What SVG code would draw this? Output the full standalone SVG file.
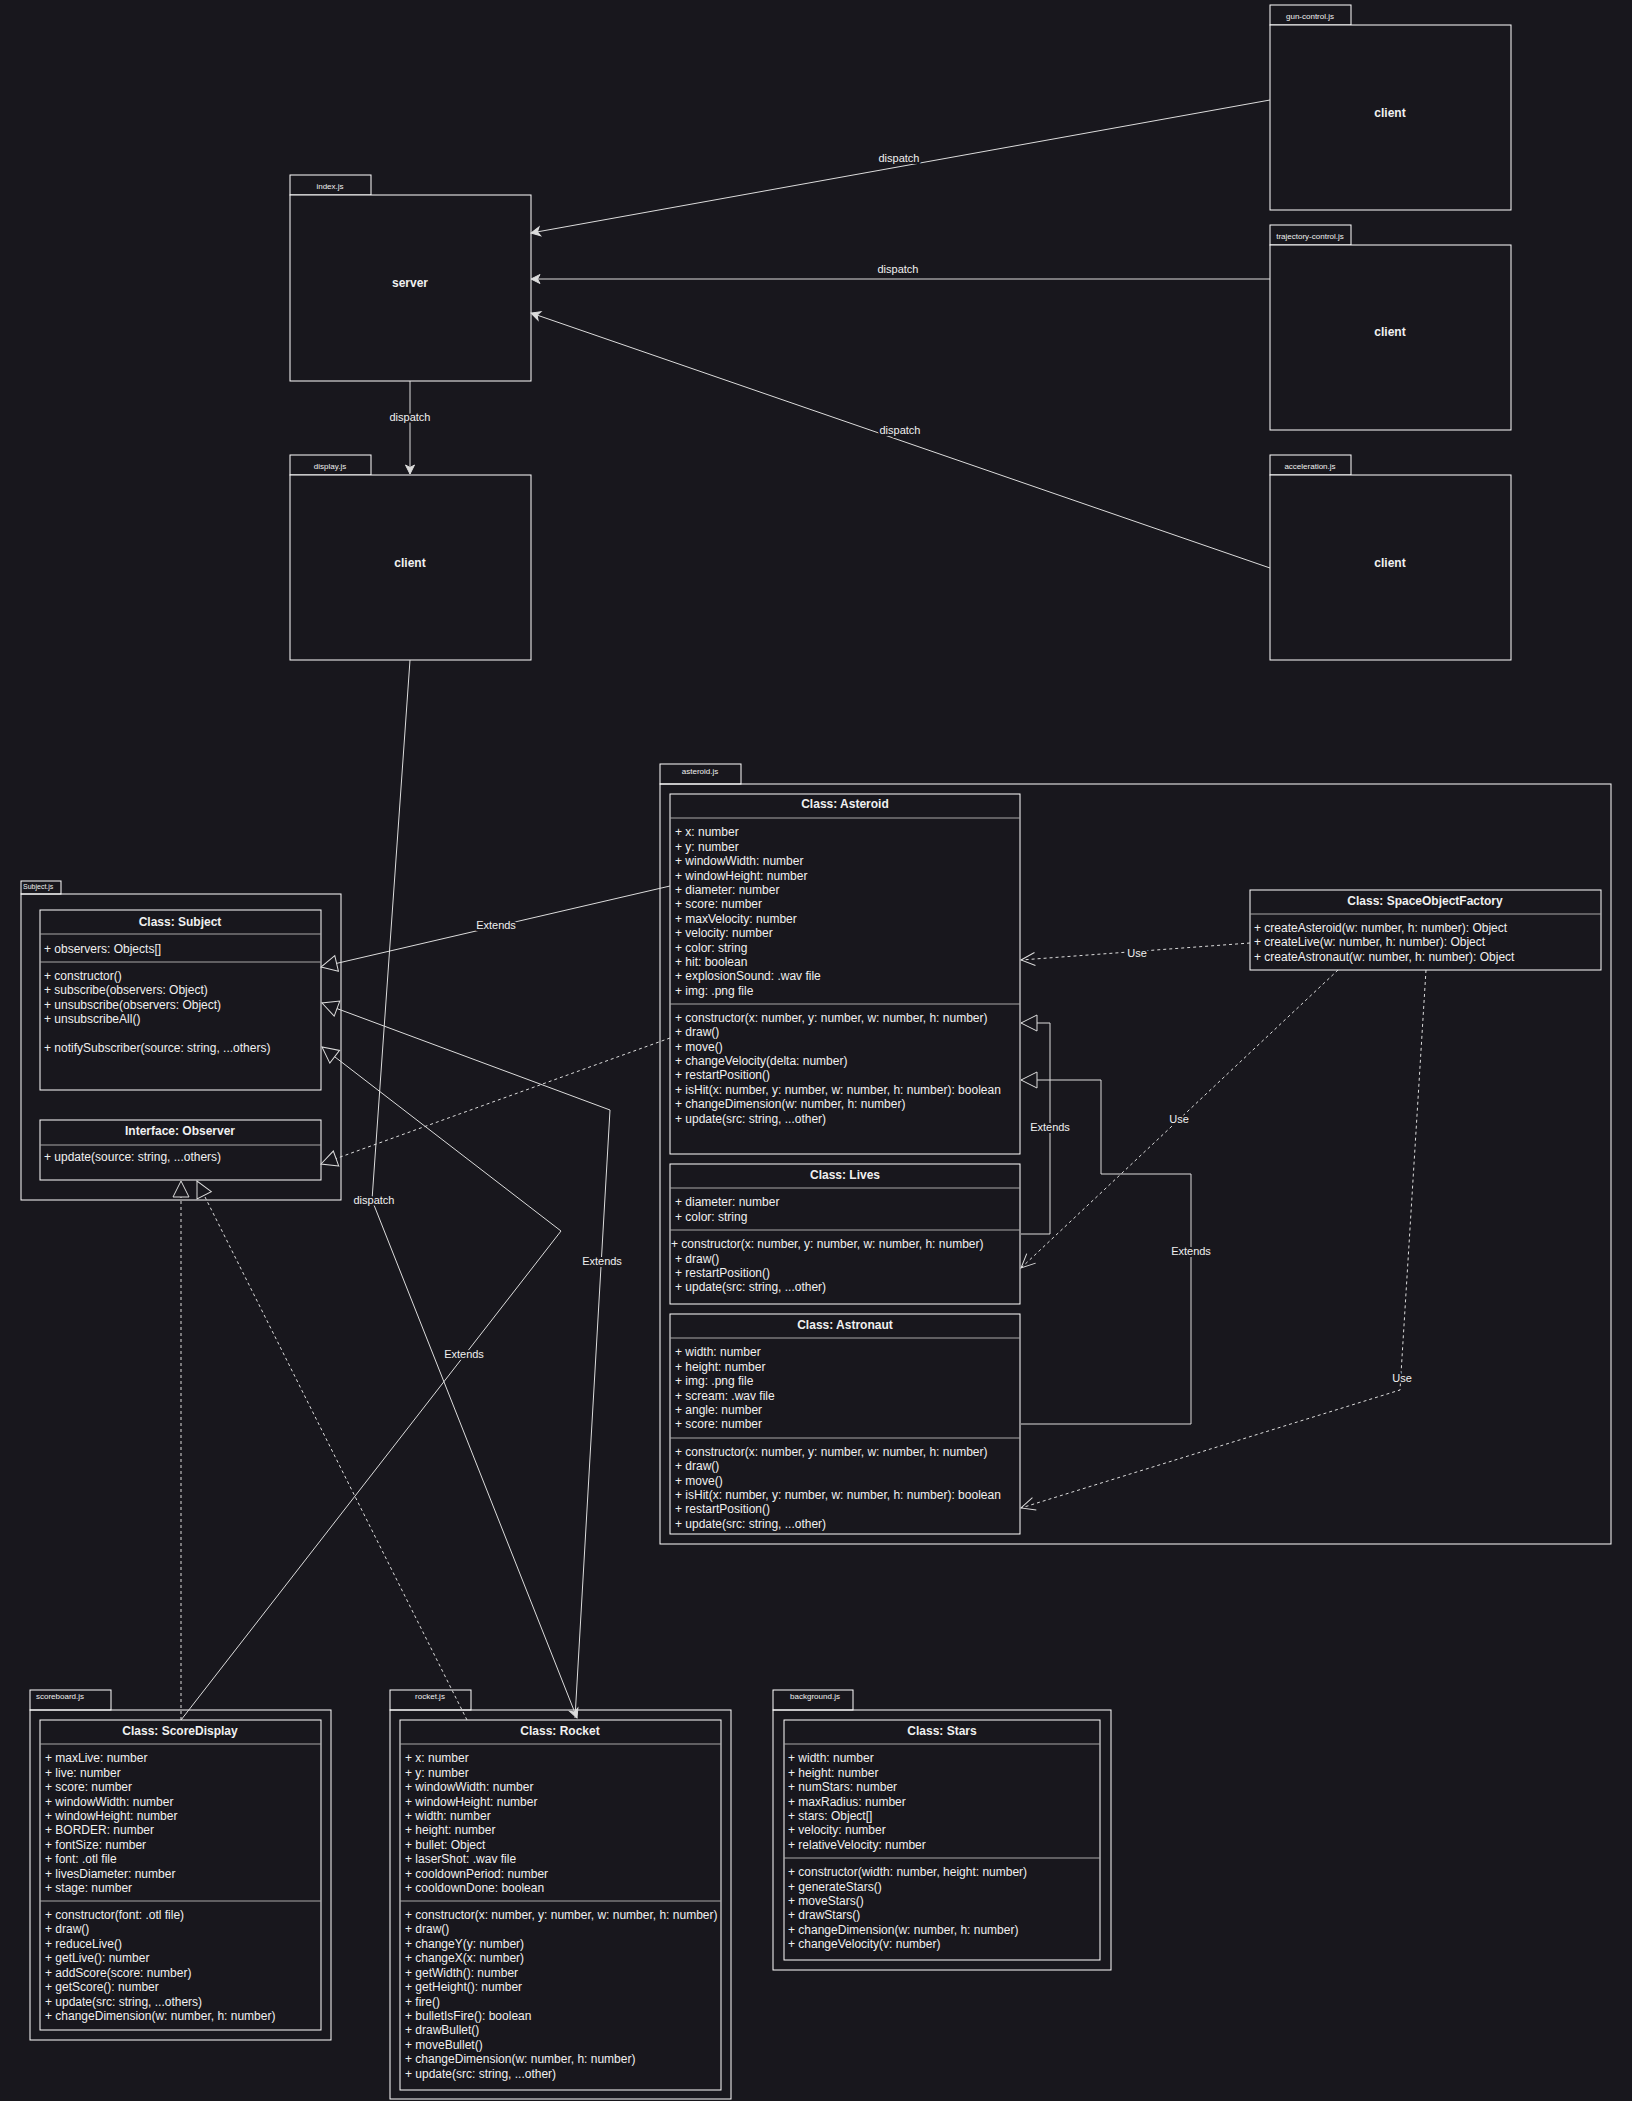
<svg xmlns="http://www.w3.org/2000/svg" width="1632" height="2101" viewBox="0 0 1632 2101">
<style>
.bg{fill:#18171d}
.pkg{fill:none;stroke:#ffffff;stroke-width:1}
.box{fill:#18171d;stroke:#ffffff;stroke-width:1}
.dv{stroke:#a8a8a8;stroke-width:1}
text{font-family:"Liberation Sans",Arial,Helvetica,sans-serif;fill:#f0f0f0}
.m{font-size:12px}
.h{font-size:12px;font-weight:bold;text-anchor:middle}
.tab{font-size:8px;text-anchor:middle}
.lbl{font-size:11px;text-anchor:middle;stroke:#18171d;stroke-width:4px;paint-order:stroke;stroke-linejoin:round}
.c{fill:none;stroke:#dcdcdc;stroke-width:1}
.d{stroke-dasharray:3 3}
</style>
<defs>
<marker id="fa" markerUnits="userSpaceOnUse" markerWidth="12" markerHeight="12" viewBox="-1 -1 12 12" refX="9" refY="4.5" orient="auto" overflow="visible"><path d="M0,0 L9,4.5 L0,9 L2.5,4.5 z" fill="#dcdcdc" stroke="#dcdcdc" stroke-width="1"/></marker>
<marker id="tri" markerUnits="userSpaceOnUse" markerWidth="18" markerHeight="18" viewBox="-1 -1 18 18" refX="16" refY="8" orient="auto" overflow="visible"><path d="M0,0 L16,8 L0,16 z" fill="#18171d" stroke="#dcdcdc" stroke-width="1"/></marker>
<marker id="oa" markerUnits="userSpaceOnUse" markerWidth="16" markerHeight="16" viewBox="-1 -1 16 16" refX="14" refY="6.5" orient="auto" overflow="visible"><path d="M0,0 L14,6.5 L0,13" fill="none" stroke="#dcdcdc" stroke-width="1"/></marker>
</defs>
<rect class="bg" x="0" y="0" width="1632" height="2101"/>

<g id="index-js">
<rect class="pkg" x="290" y="175" width="81" height="20"/>
<rect class="box" x="290" y="195" width="241" height="186"/>
<text class="tab" x="330" y="189">index.js</text>
<text class="h" x="410" y="287">server</text>
</g>
<g id="display-js">
<rect class="pkg" x="290" y="455" width="81" height="20"/>
<rect class="box" x="290" y="475" width="241" height="185"/>
<text class="tab" x="330" y="469">display.js</text>
<text class="h" x="410" y="567">client</text>
</g>
<g id="gun-control-js">
<rect class="pkg" x="1270" y="5" width="81" height="20"/>
<rect class="box" x="1270" y="25" width="241" height="185"/>
<text class="tab" x="1310" y="19">gun-control.js</text>
<text class="h" x="1390" y="117">client</text>
</g>
<g id="trajectory-control-js">
<rect class="pkg" x="1270" y="225" width="81" height="20"/>
<rect class="box" x="1270" y="245" width="241" height="185"/>
<text class="tab" x="1310" y="239">trajectory-control.js</text>
<text class="h" x="1390" y="336">client</text>
</g>
<g id="acceleration-js">
<rect class="pkg" x="1270" y="455" width="81" height="20"/>
<rect class="box" x="1270" y="475" width="241" height="185"/>
<text class="tab" x="1310" y="469">acceleration.js</text>
<text class="h" x="1390" y="567">client</text>
</g>

<g id="subject-js">
<rect class="pkg" x="21" y="881" width="40" height="13"/>
<rect class="pkg" x="21" y="894" width="320" height="306"/>
<text x="23" y="889" style="font-size:7px">Subject.js</text>
</g>
<g id="class-subject">
<rect class="box" x="40" y="910" width="281" height="180"/>
<line class="dv" x1="40" y1="934" x2="321" y2="934"/>
<line class="dv" x1="40" y1="962" x2="321" y2="962"/>
<text class="h" x="180" y="926">Class: Subject</text>
<text class="m"><tspan x="44" y="953">+ observers: Objects[]</tspan><tspan x="44" y="980">+ constructor()</tspan><tspan x="44" y="994">+ subscribe(observers: Object)</tspan><tspan x="44" y="1009">+ unsubscribe(observers: Object)</tspan><tspan x="44" y="1023">+ unsubscribeAll()</tspan><tspan x="44" y="1052">+ notifySubscriber(source: string, ...others)</tspan></text>
</g>
<g id="interface-observer">
<rect class="box" x="40" y="1120" width="281" height="60"/>
<line class="dv" x1="40" y1="1145" x2="321" y2="1145"/>
<text class="h" x="180" y="1135">Interface: Observer</text>
<text class="m" x="44" y="1161">+ update(source: string, ...others)</text>
</g>

<g id="asteroid-js">
<rect class="pkg" x="660" y="764" width="81" height="20"/>
<rect class="pkg" x="660" y="784" width="951" height="760"/>
<text class="tab" x="700" y="774">asteroid.js</text>
</g>
<g id="class-asteroid">
<rect class="box" x="670" y="794" width="350" height="360"/>
<line class="dv" x1="670" y1="818" x2="1020" y2="818"/>
<line class="dv" x1="670" y1="1004" x2="1020" y2="1004"/>
<text class="h" x="845" y="808">Class: Asteroid</text>
<text class="m"><tspan x="675" y="836">+ x: number</tspan><tspan x="675" y="851">+ y: number</tspan><tspan x="675" y="865">+ windowWidth: number</tspan><tspan x="675" y="880">+ windowHeight: number</tspan><tspan x="675" y="894">+ diameter: number</tspan><tspan x="675" y="908">+ score: number</tspan><tspan x="675" y="923">+ maxVelocity: number</tspan><tspan x="675" y="937">+ velocity: number</tspan><tspan x="675" y="952">+ color: string</tspan><tspan x="675" y="966">+ hit: boolean</tspan><tspan x="675" y="980">+ explosionSound: .wav file</tspan><tspan x="675" y="995">+ img: .png file</tspan><tspan x="675" y="1022">+ constructor(x: number, y: number, w: number, h: number)</tspan><tspan x="675" y="1036">+ draw()</tspan><tspan x="675" y="1051">+ move()</tspan><tspan x="675" y="1065">+ changeVelocity(delta: number)</tspan><tspan x="675" y="1079">+ restartPosition()</tspan><tspan x="675" y="1094">+ isHit(x: number, y: number, w: number, h: number): boolean</tspan><tspan x="675" y="1108">+ changeDimension(w: number, h: number)</tspan><tspan x="675" y="1123">+ update(src: string, ...other)</tspan></text>
</g>
<g id="class-lives">
<rect class="box" x="670" y="1164" width="350" height="140"/>
<line class="dv" x1="670" y1="1188" x2="1020" y2="1188"/>
<line class="dv" x1="670" y1="1230" x2="1020" y2="1230"/>
<text class="h" x="845" y="1179">Class: Lives</text>
<text class="m"><tspan x="675" y="1206">+ diameter: number</tspan><tspan x="675" y="1221">+ color: string</tspan><tspan x="671" y="1248">+ constructor(x: number, y: number, w: number, h: number)</tspan><tspan x="675" y="1263">+ draw()</tspan><tspan x="675" y="1277">+ restartPosition()</tspan><tspan x="675" y="1291">+ update(src: string, ...other)</tspan></text>
</g>
<g id="class-astronaut">
<rect class="box" x="670" y="1314" width="350" height="220"/>
<line class="dv" x1="670" y1="1338" x2="1020" y2="1338"/>
<line class="dv" x1="670" y1="1438" x2="1020" y2="1438"/>
<text class="h" x="845" y="1329">Class: Astronaut</text>
<text class="m"><tspan x="675" y="1356">+ width: number</tspan><tspan x="675" y="1371">+ height: number</tspan><tspan x="675" y="1385">+ img: .png file</tspan><tspan x="675" y="1400">+ scream: .wav file</tspan><tspan x="675" y="1414">+ angle: number</tspan><tspan x="675" y="1428">+ score: number</tspan><tspan x="675" y="1456">+ constructor(x: number, y: number, w: number, h: number)</tspan><tspan x="675" y="1470">+ draw()</tspan><tspan x="675" y="1485">+ move()</tspan><tspan x="675" y="1499">+ isHit(x: number, y: number, w: number, h: number): boolean</tspan><tspan x="675" y="1513">+ restartPosition()</tspan><tspan x="675" y="1528">+ update(src: string, ...other)</tspan></text>
</g>
<g id="class-spaceobjectfactory">
<rect class="box" x="1250" y="890" width="351" height="80"/>
<line class="dv" x1="1250" y1="914" x2="1601" y2="914"/>
<text class="h" x="1425" y="905">Class: SpaceObjectFactory</text>
<text class="m"><tspan x="1254" y="932">+ createAsteroid(w: number, h: number): Object</tspan><tspan x="1254" y="946">+ createLive(w: number, h: number): Object</tspan><tspan x="1254" y="961">+ createAstronaut(w: number, h: number): Object</tspan></text>
</g>

<g id="scoreboard-js">
<rect class="pkg" x="30" y="1690" width="81" height="20"/>
<rect class="pkg" x="30" y="1710" width="301" height="330"/>
<text class="tab" x="36" y="1699" style="text-anchor:start">scoreboard.js</text>
</g>
<g id="class-scoredisplay">
<rect class="box" x="40" y="1720" width="281" height="310"/>
<line class="dv" x1="40" y1="1744" x2="321" y2="1744"/>
<line class="dv" x1="40" y1="1901" x2="321" y2="1901"/>
<text class="h" x="180" y="1735">Class: ScoreDisplay</text>
<text class="m"><tspan x="45" y="1762">+ maxLive: number</tspan><tspan x="45" y="1777">+ live: number</tspan><tspan x="45" y="1791">+ score: number</tspan><tspan x="45" y="1806">+ windowWidth: number</tspan><tspan x="45" y="1820">+ windowHeight: number</tspan><tspan x="45" y="1834">+ BORDER: number</tspan><tspan x="45" y="1849">+ fontSize: number</tspan><tspan x="45" y="1863">+ font: .otl file</tspan><tspan x="45" y="1878">+ livesDiameter: number</tspan><tspan x="45" y="1892">+ stage: number</tspan><tspan x="45" y="1919">+ constructor(font: .otl file)</tspan><tspan x="45" y="1933">+ draw()</tspan><tspan x="45" y="1948">+ reduceLive()</tspan><tspan x="45" y="1962">+ getLive(): number</tspan><tspan x="45" y="1977">+ addScore(score: number)</tspan><tspan x="45" y="1991">+ getScore(): number</tspan><tspan x="45" y="2006">+ update(src: string, ...others)</tspan><tspan x="45" y="2020">+ changeDimension(w: number, h: number)</tspan></text>
</g>

<g id="rocket-js">
<rect class="pkg" x="390" y="1690" width="81" height="20"/>
<rect class="pkg" x="390" y="1710" width="341" height="389"/>
<text class="tab" x="430" y="1699">rocket.js</text>
</g>
<g id="class-rocket">
<rect class="box" x="400" y="1720" width="321" height="370"/>
<line class="dv" x1="400" y1="1744" x2="721" y2="1744"/>
<line class="dv" x1="400" y1="1901" x2="721" y2="1901"/>
<text class="h" x="560" y="1735">Class: Rocket</text>
<text class="m"><tspan x="405" y="1762">+ x: number</tspan><tspan x="405" y="1777">+ y: number</tspan><tspan x="405" y="1791">+ windowWidth: number</tspan><tspan x="405" y="1806">+ windowHeight: number</tspan><tspan x="405" y="1820">+ width: number</tspan><tspan x="405" y="1834">+ height: number</tspan><tspan x="405" y="1849">+ bullet: Object</tspan><tspan x="405" y="1863">+ laserShot: .wav file</tspan><tspan x="405" y="1878">+ cooldownPeriod: number</tspan><tspan x="405" y="1892">+ cooldownDone: boolean</tspan><tspan x="405" y="1919">+ constructor(x: number, y: number, w: number, h: number)</tspan><tspan x="405" y="1933">+ draw()</tspan><tspan x="405" y="1948">+ changeY(y: number)</tspan><tspan x="405" y="1962">+ changeX(x: number)</tspan><tspan x="405" y="1977">+ getWidth(): number</tspan><tspan x="405" y="1991">+ getHeight(): number</tspan><tspan x="405" y="2006">+ fire()</tspan><tspan x="405" y="2020">+ bulletIsFire(): boolean</tspan><tspan x="405" y="2034">+ drawBullet()</tspan><tspan x="405" y="2049">+ moveBullet()</tspan><tspan x="405" y="2063">+ changeDimension(w: number, h: number)</tspan><tspan x="405" y="2078">+ update(src: string, ...other)</tspan></text>
</g>

<g id="background-js">
<rect class="pkg" x="773" y="1690" width="80" height="20"/>
<rect class="pkg" x="773" y="1710" width="338" height="260"/>
<text class="tab" x="815" y="1699">background.js</text>
</g>
<g id="class-stars">
<rect class="box" x="784" y="1720" width="316" height="240"/>
<line class="dv" x1="784" y1="1744" x2="1100" y2="1744"/>
<line class="dv" x1="784" y1="1858" x2="1100" y2="1858"/>
<text class="h" x="942" y="1735">Class: Stars</text>
<text class="m"><tspan x="788" y="1762">+ width: number</tspan><tspan x="788" y="1777">+ height: number</tspan><tspan x="788" y="1791">+ numStars: number</tspan><tspan x="788" y="1806">+ maxRadius: number</tspan><tspan x="788" y="1820">+ stars: Object[]</tspan><tspan x="788" y="1834">+ velocity: number</tspan><tspan x="788" y="1849">+ relativeVelocity: number</tspan><tspan x="788" y="1876">+ constructor(width: number, height: number)</tspan><tspan x="788" y="1891">+ generateStars()</tspan><tspan x="788" y="1905">+ moveStars()</tspan><tspan x="788" y="1919">+ drawStars()</tspan><tspan x="788" y="1934">+ changeDimension(w: number, h: number)</tspan><tspan x="788" y="1948">+ changeVelocity(v: number)</tspan></text>
</g>

<g id="connectors">
<path class="c" d="M1270,100 L531,233" marker-end="url(#fa)"/>
<text class="lbl" x="899" y="162">dispatch</text>
<path class="c" d="M1270,279 L531,279" marker-end="url(#fa)"/>
<text class="lbl" x="898" y="273">dispatch</text>
<path class="c" d="M1270,568 L531,313" marker-end="url(#fa)"/>
<text class="lbl" x="900" y="434">dispatch</text>
<path class="c" d="M410,381 L410,474" marker-end="url(#fa)"/>
<text class="lbl" x="410" y="421">dispatch</text>
<path class="c" d="M410,660 L372,1200 L577,1718" marker-end="url(#fa)"/>
<text class="lbl" x="374" y="1204">dispatch</text>

<path class="c" d="M670,886 L321,967" marker-end="url(#tri)"/>
<text class="lbl" x="496" y="929">Extends</text>
<path class="c" d="M575,1718 L610,1110 L322,1003" marker-end="url(#tri)"/>
<text class="lbl" x="602" y="1265">Extends</text>
<path class="c" d="M181,1720 L561,1231 L322,1047" marker-end="url(#tri)"/>
<text class="lbl" x="464" y="1358">Extends</text>

<path class="c d" d="M181,1720 L181,1181" marker-end="url(#tri)"/>
<path class="c d" d="M467,1720 L197,1181" marker-end="url(#tri)"/>
<path class="c d" d="M670,1038 L321,1164" marker-end="url(#tri)"/>

<path class="c" d="M1021,1234 L1050,1234 L1050,1023 L1021,1023" marker-end="url(#tri)"/>
<text class="lbl" x="1050" y="1131">Extends</text>
<path class="c" d="M1021,1424 L1191,1424 L1191,1174 L1101,1174 L1101,1080 L1021,1080" marker-end="url(#tri)"/>
<text class="lbl" x="1191" y="1255">Extends</text>

<path class="c d" d="M1250,943 L1021,960" marker-end="url(#oa)"/>
<text class="lbl" x="1137" y="957">Use</text>
<path class="c d" d="M1338,970 L1021,1268" marker-end="url(#oa)"/>
<text class="lbl" x="1179" y="1123">Use</text>
<path class="c d" d="M1426,970 L1400,1390 L1021,1508" marker-end="url(#oa)"/>
<text class="lbl" x="1402" y="1382">Use</text>
</g>
</svg>
